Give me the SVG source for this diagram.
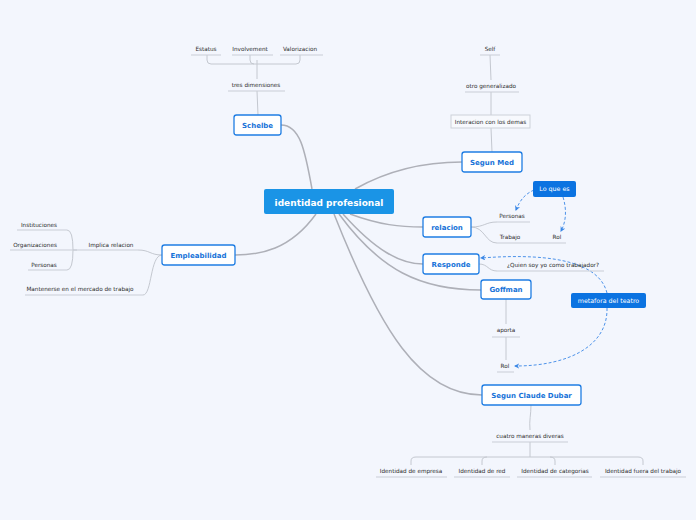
<svg xmlns="http://www.w3.org/2000/svg" width="696" height="520" viewBox="0 0 696 520">
<defs>
<marker id="ah" viewBox="0 0 10 10" refX="8" refY="5" markerWidth="6" markerHeight="6" orient="auto">
<path d="M0,0 L10,5 L0,10 L3,5 Z" fill="#3a87e6"/>
</marker>
<style>
text{font-family:"DejaVu Sans",Verdana,sans-serif;text-anchor:middle}
.lbl{font-size:5.7px;fill:#2b2b2b}
.ul{stroke:#c9cdd6;stroke-width:1;fill:none}
.br{stroke:#c4c8d0;stroke-width:1;fill:none}
.main{stroke:#aeb0b8;stroke-width:1.5;fill:none}
.node{fill:#fff;stroke:#1f7de3;stroke-width:1.3}
.nt{font-size:7px;font-weight:bold;fill:#1672d8}
.bn{fill:#0b73e1}
.bt{font-size:6.3px;fill:#fff}
.dash{stroke:#3a87e6;stroke-width:0.9;fill:none;stroke-dasharray:3,2}
</style>
</defs>
<rect width="696" height="520" fill="#f3f6fd"/>
<g id="connectors">
<path class="main" d="M312 189 C305 150 300 125 281 125"/>
<path class="main" d="M355 189 C385 172 420 162 462 162"/>
<path class="main" d="M350 214 C380 225 400 227 423 227"/>
<path class="main" d="M343 214 C375 250 400 264 423 264"/>
<path class="main" d="M339 214 C380 270 420 290 481 290"/>
<path class="main" d="M334 214 C380 330 420 395 482 395"/>
<path class="main" d="M316 214 C290 250 260 255 235 255"/>
<path class="br" d="M258 115 L257 91"/>
<path class="br" d="M257 79 L257 60"/>
<path class="br" d="M207 55 L207 60 Q207 64 211 64 L296 64 Q300 64 300 60 L300 55"/>
<path class="br" d="M250 55 L250 60 Q250 64 254 64"/>
<path class="br" d="M490 55 L491 80"/>
<path class="br" d="M491 92 L491 115"/>
<path class="br" d="M491 128 L492 152"/>
<path class="br" d="M471 227 C485 227 485 222 497 222"/>
<path class="br" d="M471 227 C485 227 485 243 497 243"/>
<path class="br" d="M479 264 C488 264 488 271 497 271"/>
<path class="br" d="M506 299 L506 324"/>
<path class="br" d="M506 337 L506 360"/>
<path class="br" d="M531 405 C531 415 529 420 530 430"/>
<path class="br" d="M530 442 L530 457"/>
<path class="br" d="M411 465 L411 461 Q411 457 416 457 L638 457 Q643 457 643 461 L643 465"/>
<path class="br" d="M482 465 L482 461 Q482 457 487 457"/>
<path class="br" d="M555 465 L555 461 Q555 457 550 457"/>
<path class="br" d="M162 255 C150 255 150 250 138 250"/>
<path class="br" d="M162 255 C150 255 152 295 143 295"/>
<path class="br" d="M77 250 L73 250 Q73 230 67 230"/>
<path class="br" d="M73 250 Q73 270 67 270"/>
<path class="dash" d="M534 190 C525 194 520 200 516 210" marker-end="url(#ah)"/>
<path class="dash" d="M563 197 C567 210 566 222 561 231" marker-end="url(#ah)"/>
<path class="dash" d="M607 293 C600 265 560 252 481 258" marker-end="url(#ah)"/>
<path class="dash" d="M607 308 C608 345 570 366 515 366" marker-end="url(#ah)"/>
</g>
<g id="underlines">
<line class="ul" x1="191" y1="55" x2="221" y2="55"/>
<line class="ul" x1="232" y1="55" x2="273" y2="55"/>
<line class="ul" x1="280" y1="55" x2="323" y2="55"/>
<line class="ul" x1="228" y1="91" x2="285" y2="91"/>
<line class="ul" x1="480" y1="55" x2="500" y2="55"/>
<line class="ul" x1="465" y1="92" x2="519" y2="92"/>
<line class="ul" x1="497" y1="222" x2="530" y2="222"/>
<line class="ul" x1="497" y1="243" x2="566" y2="243"/>
<line class="ul" x1="497" y1="271" x2="604" y2="271"/>
<line class="ul" x1="492" y1="337" x2="520" y2="337"/>
<line class="ul" x1="497" y1="372" x2="514" y2="372"/>
<line class="ul" x1="492" y1="442" x2="568" y2="442"/>
<line class="ul" x1="376" y1="477" x2="447" y2="477"/>
<line class="ul" x1="454" y1="477" x2="510" y2="477"/>
<line class="ul" x1="517" y1="477" x2="592" y2="477"/>
<line class="ul" x1="600" y1="477" x2="686" y2="477"/>
<line class="ul" x1="17" y1="230" x2="67" y2="230"/>
<line class="ul" x1="10" y1="250" x2="138" y2="250"/>
<line class="ul" x1="28" y1="270" x2="67" y2="270"/>
<line class="ul" x1="25" y1="295" x2="143" y2="295"/>
</g>
<g id="labels">
<text class="lbl" x="206" y="51">Estatus</text>
<text class="lbl" x="250" y="51">Involvement</text>
<text class="lbl" x="300" y="51">Valorizacion</text>
<text class="lbl" x="256" y="87">tres dimensiones</text>
<text class="lbl" x="490" y="51">Self</text>
<text class="lbl" x="491" y="88">otro generalizado</text>
<text class="lbl" x="512" y="218">Personas</text>
<text class="lbl" x="510" y="239">Trabajo</text>
<text class="lbl" x="557" y="239">Rol</text>
<text class="lbl" x="553" y="267">¿Quien soy yo como trabajador?</text>
<text class="lbl" x="506" y="332">aporta</text>
<text class="lbl" x="505" y="368">Rol</text>
<text class="lbl" x="530" y="438">cuatro maneras diveras</text>
<text class="lbl" x="411" y="473">Identidad de empresa</text>
<text class="lbl" x="482" y="473">Identidad de red</text>
<text class="lbl" x="555" y="473">Identidad de categorias</text>
<text class="lbl" x="643" y="473">Identidad fuera del trabajo</text>
<text class="lbl" x="39" y="227">Instituciones</text>
<text class="lbl" x="35" y="247">Organizaciones</text>
<text class="lbl" x="111" y="247">Implica relacion</text>
<text class="lbl" x="44" y="267">Personas</text>
<text class="lbl" x="80" y="291">Mantenerse en el mercado de trabajo</text>
</g>
<g id="n-interacion">
<rect x="451" y="115" width="79" height="13" fill="#f7f9fd" stroke="#cdd1d9" stroke-width="1"/>
<text class="lbl" x="490.5" y="124">Interacion con los demas</text>
</g>
<g id="n-central">
<rect x="264" y="189" width="130" height="25" rx="2" fill="#1a94e6"/>
<text x="329" y="205.5" style="font-size:9px;font-weight:bold;fill:#fff">identidad profesional</text>
</g>
<g id="n-schelbe">
<rect class="node" x="234" y="115" width="47" height="20" rx="2.5"/>
<text class="nt" x="257.5" y="127.5">Schelbe</text>
</g>
<g id="n-segunmed">
<rect class="node" x="462" y="152" width="60" height="20" rx="2.5"/>
<text class="nt" x="492" y="164.5">Segun Med</text>
</g>
<g id="n-relacion">
<rect class="node" x="423" y="217" width="48" height="20" rx="2.5"/>
<text class="nt" x="447" y="229.5">relacion</text>
</g>
<g id="n-responde">
<rect class="node" x="423" y="254" width="56" height="20" rx="2.5"/>
<text class="nt" x="451" y="266.5">Responde</text>
</g>
<g id="n-goffman">
<rect class="node" x="481" y="280" width="50" height="19" rx="2.5"/>
<text class="nt" x="506" y="292">Goffman</text>
</g>
<g id="n-empleabilidad">
<rect class="node" x="162" y="245" width="73" height="20" rx="2.5"/>
<text class="nt" x="198.5" y="257.5">Empleabilidad</text>
</g>
<g id="n-dubar">
<rect class="node" x="482" y="385" width="99" height="20" rx="2.5"/>
<text class="nt" x="531.5" y="397.5">Segun Claude Dubar</text>
</g>
<g id="n-loquees">
<rect class="bn" x="533" y="181" width="43" height="16" rx="2"/>
<text class="bt" x="554.5" y="191.3">Lo que es</text>
</g>
<g id="n-metafora">
<rect class="bn" x="571" y="293" width="75" height="15" rx="2"/>
<text class="bt" x="608.5" y="302.8">metafora del teatro</text>
</g>
</svg>
